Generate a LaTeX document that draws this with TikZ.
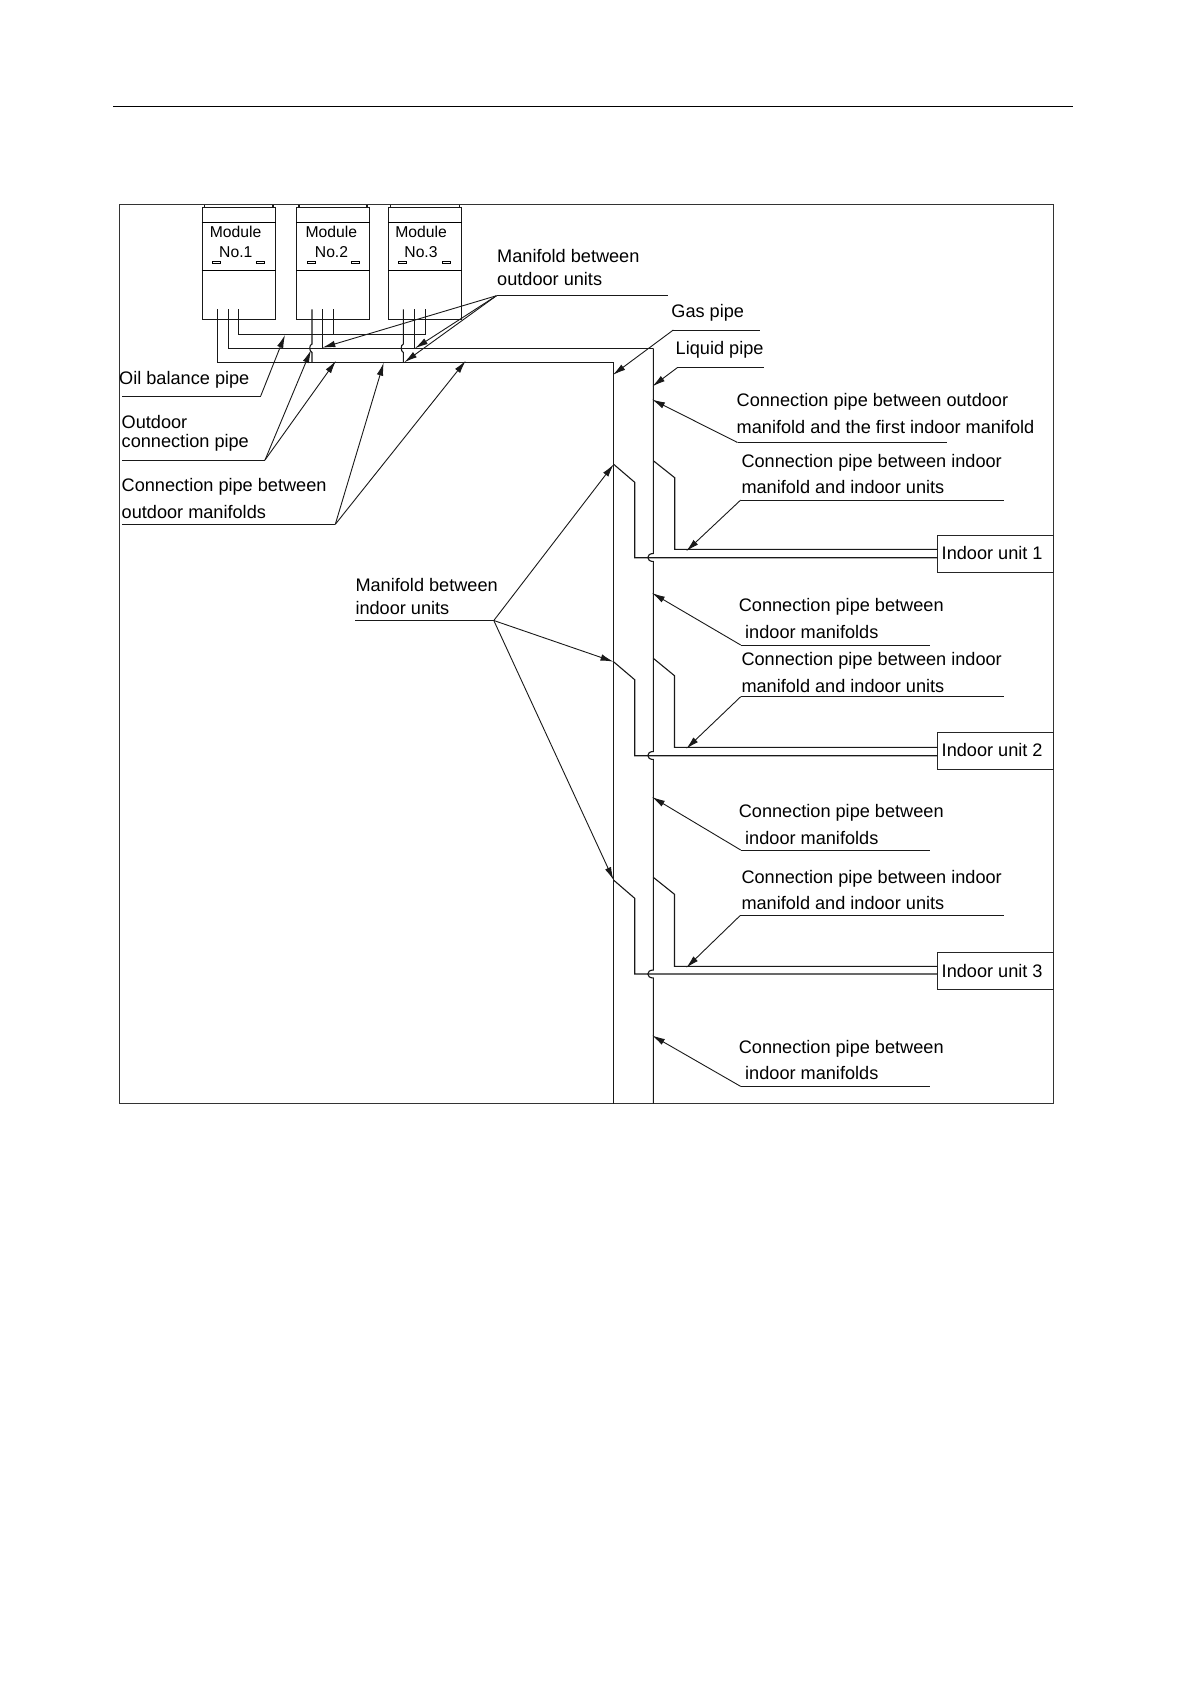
\documentclass[tikz,border=0pt]{standalone}
\usepackage{fontspec}
\setmainfont{Liberation Sans}
\usetikzlibrary{arrows.meta}

\begin{document}
\begin{tikzpicture}[x=1pt, y=-1pt]
 \tikzstyle{lab}=[anchor=base west, inner sep=0pt, text=black, font=\fontsize{18.15}{20}\selectfont]
 \tikzstyle{modlab}=[anchor=base, inner sep=0pt, text=black, font=\fontsize{15.7}{18}\selectfont]
 \tikzstyle{pipe}=[line width=1.1pt, black!90]
 \tikzstyle{leader}=[line width=1pt, black!90]
 \tikzstyle{estun}=[-{Latex[length=13pt,width=6.5pt]}, line width=0.9pt, black!90]
 \tikzstyle{unitbox}=[draw, line width=1pt, black!85, anchor=north west, inner sep=0pt, minimum width=116pt, minimum height=36.7pt]
 \useasboundingbox (0,0) rectangle (1191,1684);
 %
 \coordinate (RuleL) at (113,106.5);
 \coordinate (RuleR) at (1073,106.5);
 \draw[line width=1.5pt, black] (RuleL)--(RuleR);
 \node[draw, line width=1.2pt, black!80, anchor=north west, inner sep=0pt, minimum width=934pt, minimum height=899pt] (Frame) at (119,204.2) {};
 %
 % modules
 \node[draw, pipe, anchor=north west, inner sep=0pt, minimum width=73.6pt, minimum height=111.4pt] (M1) at (201.7,207.3) {};
 \node[draw, pipe, anchor=north west, inner sep=0pt, minimum width=73pt, minimum height=111.4pt] (M2) at (296,207.3) {};
 \node[draw, pipe, anchor=north west, inner sep=0pt, minimum width=73.3pt, minimum height=111.4pt] (M3) at (388,207.3) {};
 \draw[pipe] (204.5,207.3)--(204.5,204.7) (273,204.7)--(273,207.3);
 \draw[pipe] (299,207.3)--(299,204.7) (367,204.7)--(367,207.3);
 \draw[pipe] (390.5,207.3)--(390.5,204.7) (459.5,204.7)--(459.5,207.3);
 \draw[line width=1.5pt] (M1.west |- 0,222.3)--(M1.east |- 0,222.3);
 \draw[line width=1.5pt] (M1.west |- 0,270.3)--(M1.east |- 0,270.3);
 \draw[line width=1.5pt] (M2.west |- 0,222.3)--(M2.east |- 0,222.3);
 \draw[line width=1.5pt] (M2.west |- 0,270.3)--(M2.east |- 0,270.3);
 \draw[line width=1.5pt] (M3.west |- 0,222.3)--(M3.east |- 0,222.3);
 \draw[line width=1.5pt] (M3.west |- 0,270.3)--(M3.east |- 0,270.3);
 \draw[line width=0.8pt] (212.3,261.5) rectangle (220.3,263.5) (256.7,261.5) rectangle (264.7,263.5);
 \draw[line width=0.8pt] (307.3,261.5) rectangle (315.3,263.5) (351.3,261.5) rectangle (359.3,263.5);
 \draw[line width=0.8pt] (398.7,261.5) rectangle (406.7,263.5) (442.7,261.5) rectangle (450.7,263.5);
 \node[modlab] (M1a) at (235.5,237.6) {Module};
 \node[modlab] (M1b) at (235.8,257.6) {No.1};
 \node[modlab] (M2a) at (331.3,237.6) {Module};
 \node[modlab] (M2b) at (331.5,257.6) {No.2};
 \node[modlab] (M3a) at (421,237.6) {Module};
 \node[modlab] (M3b) at (421,257.6) {No.3};
 %
 % outdoor pipes
 \coordinate (GasA) at (217.3,362.3);
 \coordinate (GasB) at (613.7,362.3);
 \coordinate (GasEnd) at (613.7,1103.7);
 \coordinate (LiqA) at (228.3,348.3);
 \coordinate (LiqB) at (653.3,348.3);
 \coordinate (OilA) at (238.7,334.3);
 \coordinate (OilB) at (425.4,334.3);
 \draw[pipe] (217.3,309.3)--(GasA)--(GasB)--(GasEnd);
 \draw[pipe] (228.3,309.3)--(LiqA)--(LiqB);
 \draw[pipe] (238.7,309.3)--(OilA)--(OilB)--(425.4,309.3);
 \draw[pipe] (312,309.3)--(312,344) .. controls (309,345) and (309,351) .. (312,352.5)--(312,362.3);
 \draw[pipe] (322.7,309.3)--(322.7,348.3);
 \draw[pipe] (333.3,309.3)--(333.3,334.3);
 \draw[pipe] (403.3,309.3)--(403.3,344) .. controls (400.5,345) and (400.5,351) .. (403.3,352.5)--(403.3,362.3);
 \draw[pipe] (414.3,309.3)--(414.3,348.3);
 %
 % liquid pipe with its hops
 \draw[pipe] (LiqB)--(653.3,553.5) .. controls (646,553.5) and (646,561.5) .. (653.3,561.5)
  --(653.3,751.5) .. controls (646,751.5) and (646,759.5) .. (653.3,759.5)
  --(653.3,970) .. controls (646,970) and (646,978) .. (653.3,978)--(653.3,1103.7);
 %
 % indoor units
 \node[unitbox] (IU1) at (937.3,535.3) {};
 \node[unitbox] (IU2) at (937.3,732) {};
 \node[unitbox] (IU3) at (937.3,952.4) {};
 \node[lab] (IU1t) at (941.5,559.8) {Indoor unit 1};
 \node[lab] (IU2t) at (941.5,756.8) {Indoor unit 2};
 \node[lab] (IU3t) at (941.5,977.3) {Indoor unit 3};
 %
 \coordinate (T1a) at (613.7,464.3);
 \coordinate (T1b) at (634.7,482.3);
 \coordinate (T1c) at (634.7,557.7);
 \coordinate (U1a) at (653.3,460.7);
 \coordinate (U1b) at (674.7,477.7);
 \coordinate (U1c) at (674.7,549.3);
 \draw[pipe] (T1a)--(T1b)--(T1c)--(IU1.west |- T1c);
 \draw[pipe] (U1a)--(U1b)--(U1c)--(IU1.west |- U1c);
 %
 \coordinate (T2a) at (613.5,661.7);
 \coordinate (T2b) at (634.7,679.7);
 \coordinate (T2c) at (634.7,755.7);
 \coordinate (U2a) at (653.3,658.3);
 \coordinate (U2b) at (674.5,675.7);
 \coordinate (U2c) at (674.5,747.3);
 \draw[pipe] (T2a)--(T2b)--(T2c)--(IU2.west |- T2c);
 \draw[pipe] (U2a)--(U2b)--(U2c)--(IU2.west |- U2c);
 %
 \coordinate (T3a) at (613.5,880);
 \coordinate (T3b) at (634.7,898.3);
 \coordinate (T3c) at (634.7,974);
 \coordinate (U3a) at (653.3,877.3);
 \coordinate (U3b) at (674.5,894.3);
 \coordinate (U3c) at (674.5,966.3);
 \draw[pipe] (T3a)--(T3b)--(T3c)--(IU3.west |- T3c);
 \draw[pipe] (U3a)--(U3b)--(U3c)--(IU3.west |- U3c);
 %
 % labels
 \node[lab] (MOa) at (497,262) {Manifold between};
 \node[lab] (MOb) at (497,285) {outdoor units};
 \node[lab] (GP) at (671.2,317) {Gas pipe};
 \node[lab] (LP) at (675.5,354) {Liquid pipe};
 \node[lab] (OB) at (119,384) {Oil balance pipe};
 \node[lab] (OCa) at (121.5,428) {Outdoor};
 \node[lab] (OCb) at (121.5,447) {connection pipe};
 \node[lab] (CMa) at (121.5,491) {Connection pipe between};
 \node[lab] (CMb) at (121.5,518) {outdoor manifolds};
 \node[lab] (FMa) at (736.5,406.5) {Connection pipe between outdoor};
 \node[lab] (FMb) at (736.5,433) {manifold and the first indoor manifold};
 \node[lab] (MIa) at (355.3,591) {Manifold between};
 \node[lab] (MIb) at (355.3,614) {indoor units};
 \node[lab] (A1a) at (741.3,467.3) {Connection pipe between indoor};
 \node[lab] (A1b) at (741.3,493.3) {manifold and indoor units};
 \node[lab] (A2a) at (741.3,665.3) {Connection pipe between indoor};
 \node[lab] (A2b) at (741.3,692) {manifold and indoor units};
 \node[lab] (A3a) at (741.3,883) {Connection pipe between indoor};
 \node[lab] (A3b) at (741.3,909.5) {manifold and indoor units};
 \node[lab] (B1a) at (738.6,611) {Connection pipe between};
 \node[lab] (B1b) at (745,638) {indoor manifolds};
 \node[lab] (B2a) at (738.6,817) {Connection pipe between};
 \node[lab] (B2b) at (745,844) {indoor manifolds};
 \node[lab] (B3a) at (738.6,1053) {Connection pipe between};
 \node[lab] (B3b) at (745,1079) {indoor manifolds};
 %
 % leaders and arrows
 \coordinate (MOl) at (496.5,295.7);
 \coordinate (MOr) at (667.7,295.7);
 \draw[leader] (MOl)--(MOr);
 \draw[estun] (MOl)--(322.3,347.7);
 \draw[estun] (MOl)--(415,348.3);
 \draw[estun] (MOl)--(404.3,362.3);
 %
 \coordinate (OBl) at (122,396);
 \coordinate (OBr) at (260.7,396);
 \draw[leader] (OBl)--(OBr);
 \draw[estun] (OBr)--(285,335);
 %
 \coordinate (OCl) at (122,460);
 \coordinate (OCr) at (265,460);
 \draw[leader] (OCl)--(OCr);
 \draw[estun] (OCr)--(311,350);
 \draw[estun] (OCr)--(336,360.7);
 %
 \coordinate (CMl) at (122,524.3);
 \coordinate (CMr) at (335.3,524.3);
 \draw[leader] (CMl)--(CMr);
 \draw[estun] (CMr)--(383.7,362.7);
 \draw[estun] (CMr)--(465.7,360.7);
 %
 \coordinate (GPl) at (673.3,330);
 \coordinate (GPr) at (760,330);
 \draw[leader] (GPl)--(GPr);
 \draw[estun] (GPl)--(612.7,375);
 %
 \coordinate (LPl) at (677.3,367.7);
 \coordinate (LPr) at (764,367.7);
 \draw[leader] (LPl)--(LPr);
 \draw[estun] (LPl)--(652.3,386.4);
 %
 \coordinate (FMl) at (737.5,442.5);
 \coordinate (FMr) at (947,442.5);
 \draw[leader] (FMl)--(FMr);
 \draw[estun] (FMl)--(652,399.5);
 %
 \coordinate (MIl) at (355.3,620.5);
 \coordinate (MIr) at (493.8,620.5);
 \draw[leader] (MIl)--(MIr);
 \draw[estun] (MIr)--(T1a);
 \draw[estun] (MIr)--(T2a);
 \draw[estun] (MIr)--(T3a);
 %
 \coordinate (A1l) at (740.7,500);
 \coordinate (A1r) at (1004,500);
 \draw[leader] (A1l)--(A1r);
 \draw[estun] (A1l)--(686.2,551.2);
 \coordinate (A2l) at (740.7,696.7);
 \coordinate (A2r) at (1004,696.7);
 \draw[leader] (A2l)--(A2r);
 \draw[estun] (A2l)--(686.2,748.8);
 \coordinate (A3l) at (740,915.7);
 \coordinate (A3r) at (1004,915.7);
 \draw[leader] (A3l)--(A3r);
 \draw[estun] (A3l)--(686.2,967.8);
 %
 \coordinate (B1l) at (740.7,645);
 \coordinate (B1r) at (930,645);
 \draw[leader] (B1l)--(B1r);
 \draw[estun] (B1l)--(652,593);
 \coordinate (B2l) at (740.7,850);
 \coordinate (B2r) at (930,850);
 \draw[leader] (B2l)--(B2r);
 \draw[estun] (B2l)--(652,797);
 \coordinate (B3l) at (740.7,1086.4);
 \coordinate (B3r) at (930,1086.4);
 \draw[leader] (B3l)--(B3r);
 \draw[estun] (B3l)--(652,1035.4);
\end{tikzpicture}
\end{document}
